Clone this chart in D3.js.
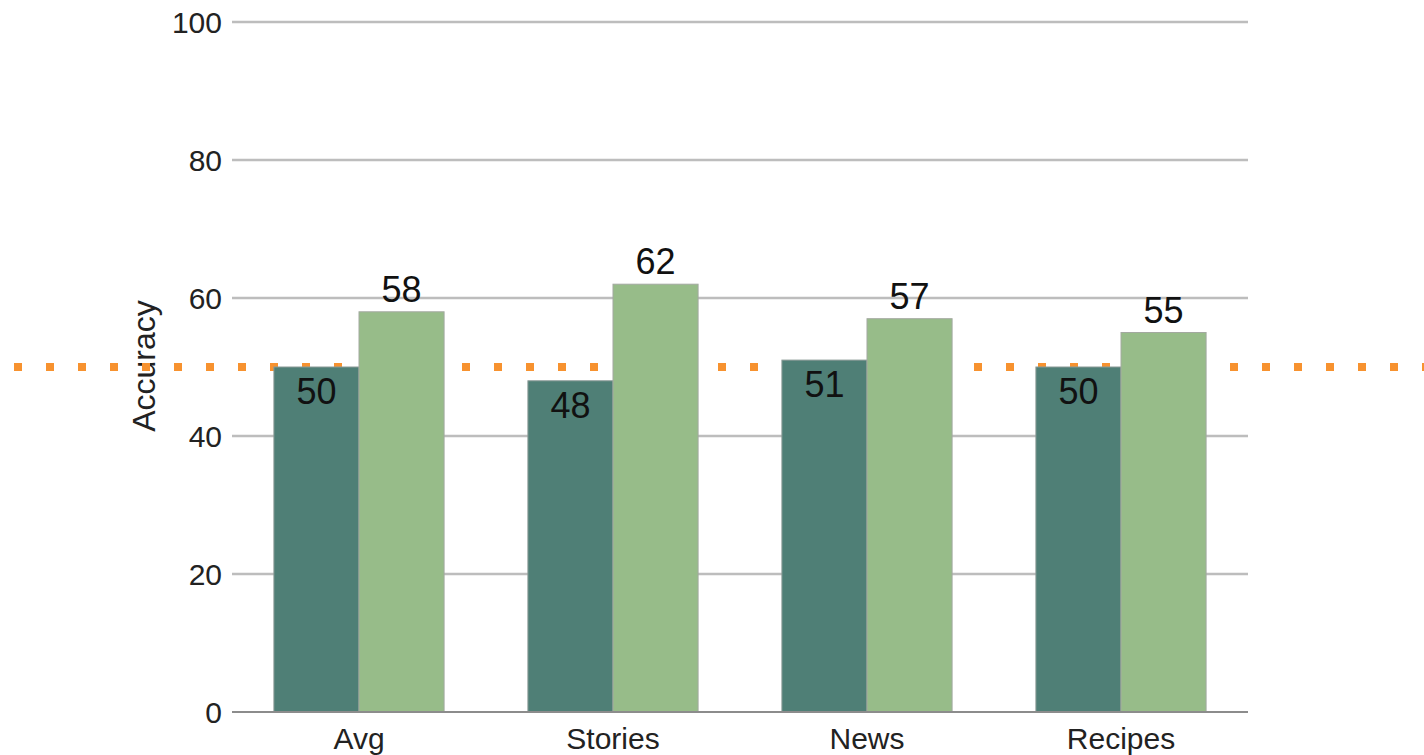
<!DOCTYPE html>
<html>
<head>
<meta charset="utf-8">
<script src="https://cdn.jsdelivr.net/npm/d3@7"></script>
<style>
  body { margin: 0; background: #fff; }
  text { font-family: "Liberation Sans", Arial, sans-serif; }
</style>
</head>
<body>
<script>
var categories = ["Avg", "Stories", "News", "Recipes"];
var baseline = [50, 48, 51, 50];
var model = [58, 62, 57, 55];
var yTicks = [0, 20, 40, 60, 80, 100];
var chanceLevel = 50;

var width = 1424, height = 755;

var svg = d3.select("body").append("svg")
    .attr("width", width)
    .attr("height", height);

var x = d3.scaleBand()
    .domain(categories)
    .range([232, 1248])
    .paddingInner(0.33)
    .paddingOuter(0.165);

var y = d3.scaleLinear()
    .domain([0, 100])
    .range([712, 22]);

var sub = d3.scaleBand()
    .domain(["baseline", "model"])
    .range([0, x.bandwidth()]);

// gridlines
svg.selectAll("line.grid")
    .data(yTicks.filter(function(d) { return d > 0; }))
    .enter().append("line")
    .attr("class", "grid")
    .attr("x1", 232).attr("x2", 1248)
    .attr("y1", function(d) { return y(d); })
    .attr("y2", function(d) { return y(d); })
    .attr("stroke", "#bdbdbd")
    .attr("stroke-width", 2.5);

// y tick labels
svg.selectAll("text.ytick")
    .data(yTicks)
    .enter().append("text")
    .attr("class", "ytick")
    .attr("x", 222)
    .attr("y", function(d) { return y(d); })
    .attr("dy", "0.36em")
    .attr("text-anchor", "end")
    .attr("font-size", 30)
    .attr("fill", "#222")
    .text(function(d) { return d; });

// y axis title
svg.append("text")
    .attr("transform", "translate(155,366) rotate(-90)")
    .attr("text-anchor", "middle")
    .attr("font-size", 32)
    .attr("fill", "#222")
    .text("Accuracy");

// dotted chance line
svg.append("line")
    .attr("x1", 14).attr("x2", width)
    .attr("y1", y(chanceLevel)).attr("y2", y(chanceLevel))
    .attr("stroke", "#f7922f")
    .attr("stroke-width", 8)
    .attr("stroke-dasharray", "8 24");

var groups = svg.selectAll("g.cat")
    .data(categories)
    .enter().append("g")
    .attr("class", "cat")
    .attr("transform", function(d) { return "translate(" + x(d) + ",0)"; });

groups.append("rect")
    .attr("x", sub("baseline"))
    .attr("width", sub.bandwidth())
    .attr("y", function(d, i) { return y(baseline[i]); })
    .attr("height", function(d, i) { return y(0) - y(baseline[i]); })
    .attr("fill", "#4f7f76")
    .attr("stroke", "#8a9a96")
    .attr("stroke-width", 1);

groups.append("rect")
    .attr("x", sub("model"))
    .attr("width", sub.bandwidth())
    .attr("y", function(d, i) { return y(model[i]); })
    .attr("height", function(d, i) { return y(0) - y(model[i]); })
    .attr("fill", "#97bc89")
    .attr("stroke", "#a3a9a0")
    .attr("stroke-width", 1);

groups.append("text")
    .attr("x", sub("baseline") + sub.bandwidth() / 2)
    .attr("y", function(d, i) { return y(baseline[i]) + 37; })
    .attr("text-anchor", "middle")
    .attr("font-size", 36)
    .attr("fill", "#111")
    .text(function(d, i) { return baseline[i]; });

groups.append("text")
    .attr("x", sub("model") + sub.bandwidth() / 2)
    .attr("y", function(d, i) { return y(model[i]) - 10; })
    .attr("text-anchor", "middle")
    .attr("font-size", 36)
    .attr("fill", "#111")
    .text(function(d, i) { return model[i]; });

// baseline axis
svg.append("line")
    .attr("x1", 232).attr("x2", 1248)
    .attr("y1", y(0)).attr("y2", y(0))
    .attr("stroke", "#8c8c8c")
    .attr("stroke-width", 2);

// category labels
svg.selectAll("text.xlab")
    .data(categories)
    .enter().append("text")
    .attr("class", "xlab")
    .attr("x", function(d) { return x(d) + x.bandwidth() / 2; })
    .attr("y", 749)
    .attr("text-anchor", "middle")
    .attr("font-size", 30)
    .attr("fill", "#222")
    .text(function(d) { return d; });
</script>
</body>
</html>
